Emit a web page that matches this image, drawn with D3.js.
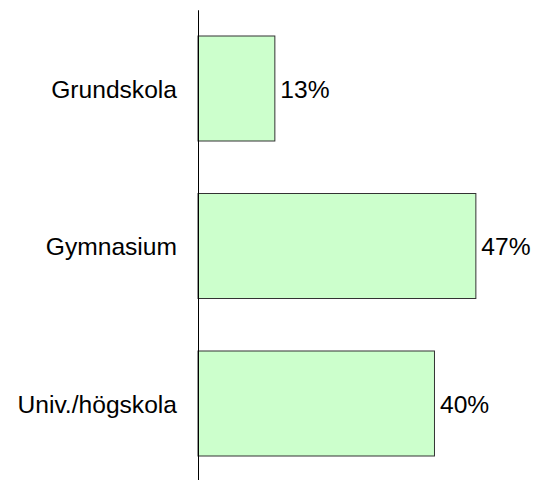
<!DOCTYPE html>
<html>
<head>
<meta charset="utf-8">
<script src="https://cdn.jsdelivr.net/npm/d3@7"></script>
<style>
  body { margin: 0; background: #fff; }
  text { font-family: "Liberation Sans", Arial, sans-serif; fill: #000; }
</style>
</head>
<body>
<div id="chart"></div>
<script>
// education levels and their shares (percent)
var categories = ["Grundskola", "Gymnasium", "Univ./högskola"];
var values = [13, 47, 40];

var width = 540, height = 480;
var fontSize = 24.6;

var svg = d3.select("#chart")
    .append("svg")
    .attr("width", width)
    .attr("height", height);

var x = d3.scaleLinear()
    .domain([0, 50])
    .range([198, 493.6]);

var y = d3.scaleBand()
    .domain(categories)
    .range([9.75, 482.25])
    .paddingInner(1 / 3)
    .paddingOuter(1 / 6);

// bars
svg.append("g")
    .selectAll("rect")
    .data(values)
    .enter()
    .append("rect")
    .attr("x", x(0))
    .attr("y", function(d, i) { return y(categories[i]); })
    .attr("width", function(d) { return x(d) - x(0); })
    .attr("height", y.bandwidth())
    .attr("fill", "#ccffcc")
    .attr("stroke", "#333")
    .attr("stroke-width", 1);

// value labels
svg.append("g")
    .selectAll("text")
    .data(values)
    .enter()
    .append("text")
    .attr("x", function(d) { return x(d) + 5.5; })
    .attr("y", function(d, i) { return y(categories[i]) + y.bandwidth() / 2; })
    .attr("dy", "0.37em")
    .attr("font-size", fontSize)
    .text(function(d) { return d + "%"; });

// category axis, no ticks
var axis = svg.append("g")
    .attr("transform", "translate(" + x(0) + ",0)")
    .call(d3.axisLeft(y).tickSize(0).tickPadding(21));

axis.select(".domain").attr("stroke", "#000");
axis.selectAll("text")
    .attr("font-size", fontSize)
    .attr("font-family", "Liberation Sans, Arial, sans-serif")
    .attr("fill", "#000")
    .attr("dy", "0.37em");
</script>
</body>
</html>
